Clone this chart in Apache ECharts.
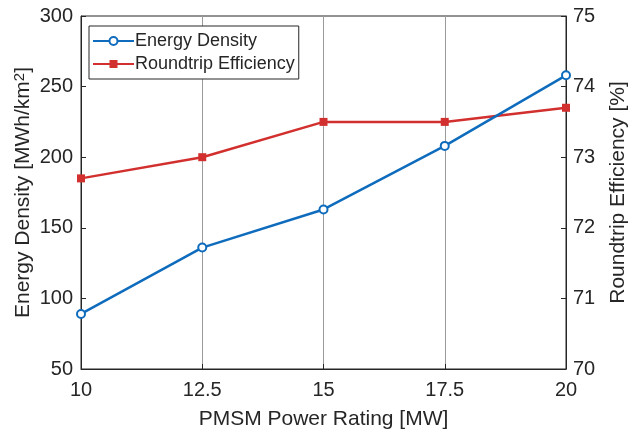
<!DOCTYPE html>
<html lang="en">
<head>
  <meta charset="UTF-8">
  <script src="https://cdn.jsdelivr.net/npm/echarts@6/dist/echarts.min.js"></script>
  <title>PMSM Power Rating</title>
  <style>
    html, body { margin: 0; padding: 0; background: #fff; }
    #main { width: 628px; height: 433px; }
  </style>
</head>
<body>
  <div id="main"></div>
  <script>
    // data
    var powerRating = [10, 12.5, 15, 17.5, 20]
    var energyDensity = [89, 136, 163, 208, 258]
    var roundtripEff = [72.7, 73.0, 73.5, 73.5, 73.7]

    var blue = '#0f6cbd'
    var red = '#d2302e'
    var axisColor = '#262626'
    var textColor = '#262626'
    var font = 'Liberation Sans'

    var pairs = (xs, ys) => xs.map((x, i) => [x, ys[i]])

    var chart = echarts.init(document.getElementById('main'))

    var titleStyle = { fontSize: 21, color: textColor, fontFamily: font }
    var tick = { show: true, inside: true, length: 5, lineStyle: { color: axisColor } }

    var option = {
      backgroundColor: '#fff',
      textStyle: { fontFamily: font },
      grid: {
        left: 81, right: 62, top: 16, bottom: 64,
        outerBoundsMode: 'none',
        containLabel: false,
        show: true, borderColor: axisColor, borderWidth: 1
      },
      legend: {
        orient: 'vertical',
        left: 89, top: 26,
        itemWidth: 41, itemHeight: 10, itemGap: 5,
        padding: [6, 4, 6, 3],
        backgroundColor: '#fff',
        borderColor: axisColor, borderWidth: 1, borderRadius: 0,
        textStyle: { fontSize: 18, color: textColor, fontFamily: font, padding: [0, 0, 0, -4] },
        data: ['Energy Density', 'Roundtrip Efficiency']
      },
      xAxis: {
        type: 'value',
        min: 10, max: 20, interval: 2.5,
        name: 'PMSM Power Rating [MW]',
        nameLocation: 'middle', nameGap: 40,
        nameTextStyle: titleStyle,
        axisLine: { lineStyle: { color: axisColor } },
        axisTick: tick,
        axisLabel: { fontSize: 20, color: textColor, margin: 11 },
        splitLine: { show: true, lineStyle: { color: '#9a9a9a', width: 1 } }
      },
      yAxis: [{
        type: 'value',
        min: 50, max: 300, interval: 50,
        name: 'Energy Density [MWh/km{sup|2}]',
        nameLocation: 'middle', nameGap: 46,
        nameMoveOverlap: false,
        nameTextStyle: Object.assign({}, titleStyle, {
          rich: { sup: { fontSize: 15, verticalAlign: 'top', color: textColor, fontFamily: font, padding: [0, 0, 8, 0] } }
        }),
        axisLine: { show: true, lineStyle: { color: axisColor } },
        axisTick: tick,
        axisLabel: { fontSize: 20, color: textColor, margin: 8 },
        splitLine: { show: false }
      }, {
        type: 'value',
        min: 70, max: 75, interval: 1,
        name: 'Roundtrip Efficiency [%]',
        nameLocation: 'middle', nameGap: 42,
        nameRotate: 90,
        nameTextStyle: titleStyle,
        axisLine: { show: true, lineStyle: { color: axisColor } },
        axisTick: tick,
        axisLabel: { fontSize: 20, color: textColor, margin: 7 },
        splitLine: { show: false }
      }],
      series: [{
        name: 'Energy Density',
        type: 'line',
        yAxisIndex: 0,
        data: pairs(powerRating, energyDensity),
        symbol: 'emptyCircle', symbolSize: 8,
        lineStyle: { color: blue, width: 2.5 },
        itemStyle: { color: blue, borderWidth: 2 },
        z: 3
      }, {
        name: 'Roundtrip Efficiency',
        type: 'line',
        yAxisIndex: 1,
        data: pairs(powerRating, roundtripEff),
        symbol: 'rect', symbolSize: 8,
        lineStyle: { color: red, width: 2.5 },
        itemStyle: { color: red },
        z: 2
      }]
    }

    chart.setOption(option)
  </script>
</body>
</html>
